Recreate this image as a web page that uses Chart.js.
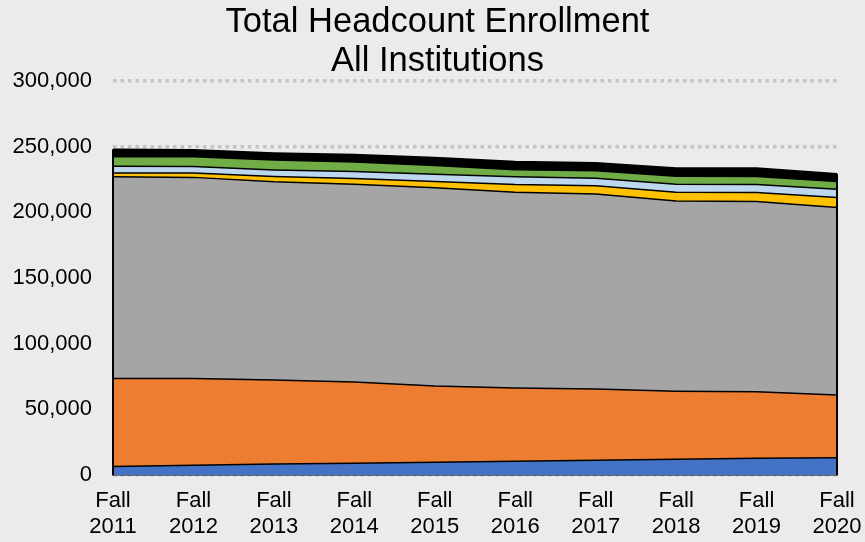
<!DOCTYPE html>
<html>
<head>
<meta charset="utf-8">
<script src="https://cdn.jsdelivr.net/npm/chart.js@4/dist/chart.umd.min.js"></script>
<style>
  html,body{margin:0;padding:0;background:#ebebeb;}
  #wrap{width:865px;height:542px;position:relative;}
</style>
</head>
<body>
<div id="wrap"><canvas id="enrollChart"></canvas></div>
<script>
// ── data (headcount by group) ─────────────────────────────────────────────────
const YEARS   = ['2011','2012','2013','2014','2015','2016','2017','2018','2019','2020'];
const BLUE_S  = [6500,7500,8300,9000,9800,10500,11200,12000,12800,13200];
const ORANGE_S= [67000,66000,64000,61800,58000,55800,54300,51800,50500,47800];
const GRAY_S  = [153500,153100,151000,150600,150900,149000,148500,144900,144900,142600];
const YELLOW_S= [3000,3300,4000,4400,4800,5800,6200,6600,6900,7600];
const LTBLUE_S= [5000,5000,5000,5200,5400,5900,5800,6000,6100,6400];
const GREEN_S = [7300,7400,7500,7300,6800,5500,5600,6100,6000,5900];
const BLACK_S = [5800,5300,5400,5800,6000,6100,6100,6300,6600,5900];
const Y_TICKS = [0,50000,100000,150000,200000,250000,300000];

const FONT = "'Liberation Sans', Arial, sans-serif";

function area(label,data,color,fill){
  return {label,data,backgroundColor:color,borderColor:'#000',borderWidth:1.5,
    fill,tension:0,pointRadius:0,pointHoverRadius:0};
}

// draws the left/right closing edges of the stacked area
const edgeLines={
  id:'edgeLines',
  afterDatasetsDraw(chart){
    const n=chart.data.datasets.length;
    const top=chart.getDatasetMeta(n-1).data;
    const y0=chart.scales.y.getPixelForValue(0);
    const ctx=chart.ctx;
    ctx.save();
    ctx.strokeStyle='#000';ctx.lineWidth=2;
    [top[0],top[top.length-1]].forEach(pt=>{
      ctx.beginPath();ctx.moveTo(pt.x,pt.y);ctx.lineTo(pt.x,y0);ctx.stroke();
    });
    ctx.restore();
  }
};

new Chart(document.getElementById('enrollChart'),{
  type:'line',
  data:{
    labels:YEARS.map(y=>['Fall',y]),
    datasets:[
      area('Group 1',BLUE_S,'#4472c4','origin'),
      area('Group 2',ORANGE_S,'#ed7d31','-1'),
      area('Group 3',GRAY_S,'#a5a5a5','-1'),
      area('Group 4',YELLOW_S,'#ffc000','-1'),
      area('Group 5',LTBLUE_S,'#bdd7ee','-1'),
      area('Group 6',GREEN_S,'#70ad47','-1'),
      area('Group 7',BLACK_S,'#000000','-1')
    ]
  },
  plugins:[edgeLines],
  options:{
    responsive:true,maintainAspectRatio:false,animation:false,
    layout:{padding:{left:10,right:0,top:0,bottom:2}},
    plugins:{
      legend:{display:false},
      tooltip:{enabled:false},
      title:{display:true,text:['Total Headcount Enrollment','All Institutions'],color:'#000',
        font:{family:FONT,size:34.5,weight:'normal',lineHeight:1.13},padding:{top:3,bottom:0}}
    },
    scales:{
      x:{
        grid:{display:false,drawTicks:false},
        border:{display:true,color:'#000',width:1.5},
        ticks:{color:'#000',font:{family:FONT,size:22,lineHeight:1.18},padding:13,maxRotation:0,autoSkip:false},
        afterFit:s=>{s.height=65;s.paddingLeft=24;s.paddingRight=28;}
      },
      y:{
        stacked:true,min:0,max:300000,
        grid:{color:'#c4c4c4',lineWidth:3.5,drawTicks:false},
        border:{display:false,dash:[3.5,4]},
        ticks:{color:'#000',font:{family:FONT,size:22},padding:21,stepSize:50000,
          callback:v=>Y_TICKS.includes(v)?v.toLocaleString('en-US'):''},
        afterFit:s=>{s.width=103;}
      }
    }
  }
});
</script>
</body>
</html>
